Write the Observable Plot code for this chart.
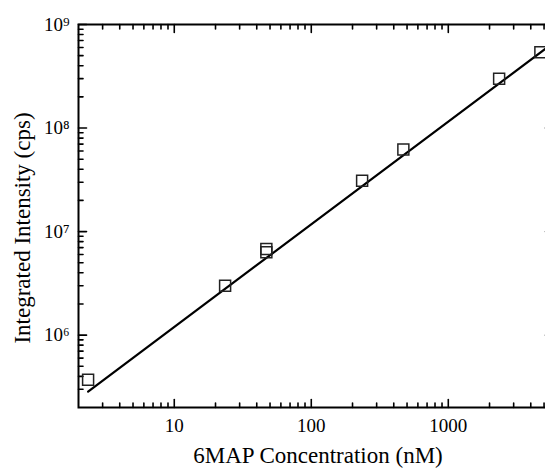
<!DOCTYPE html>
<html>
<head>
<meta charset="utf-8">
<script src="https://cdn.jsdelivr.net/npm/d3@7"></script>
<script src="https://cdn.jsdelivr.net/npm/@observablehq/plot@0.6"></script>
<style>
  html, body { margin: 0; padding: 0; background: white; overflow: hidden; }
  svg text { font-family: "Liberation Serif", "Times New Roman", serif; }
</style>
</head>
<body>
<div id="chart"></div>
<script>
// Measured points: 6MAP concentration (nM) vs integrated intensity (cps)
const concentration = [2.35, 23.5, 47, 47, 235, 470, 2350, 4700];
const intensity = [3.7e5, 3.0e6, 6.8e6, 6.3e6, 3.1e7, 6.2e7, 3.0e8, 5.4e8];

// Fitted line endpoints
const fitX = [2.35, 5100];
const fitY = [2.85e5, 5.8e8];

// Tick values and labels
const xMajor = [10, 100, 1000];
const xTickLabels = ["10", "100", "1000"];
const xMinor = [3, 4, 5, 6, 7, 8, 9, 20, 30, 40, 50, 60, 70, 80, 90,
  200, 300, 400, 500, 600, 700, 800, 900, 2000, 3000, 4000, 5000];
const yMajor = [1e6, 1e7, 1e8, 1e9];
const yTickLabels = ["10\u2076", "10\u2077", "10\u2078", "10\u2079"];
const yMinor = [3e5, 4e5, 5e5, 6e5, 7e5, 8e5, 9e5,
  2e6, 3e6, 4e6, 5e6, 6e6, 7e6, 8e6, 9e6,
  2e7, 3e7, 4e7, 5e7, 6e7, 7e7, 8e7, 9e7,
  2e8, 3e8, 4e8, 5e8, 6e8, 7e8, 8e8, 9e8];

const xTitle = "6MAP Concentration (nM)";
const yTitle = "Integrated Intensity (cps)";

const points = concentration.map((c, i) => ({c, v: intensity[i]}));
const fit = fitX.map((c, i) => ({c, v: fitY[i]}));

const serif = "'Liberation Serif', 'Times New Roman', serif";

// straight tick shape for vector marks (inward ticks)
const tickShape = {draw(ctx, l) { ctx.moveTo(0, 0); ctx.lineTo(0, -l); }};
const tk = {stroke: "black", strokeWidth: 1.6, anchor: "start", shape: tickShape};
const xt = (data, frameAnchor, rotate, length) =>
  Plot.vector(data, {x: d => d, frameAnchor, rotate, length, ...tk});
const yt = (data, frameAnchor, rotate, length) =>
  Plot.vector(data, {y: d => d, frameAnchor, rotate, length, ...tk});

const chart = Plot.plot({
  width: 555,
  height: 470,
  marginLeft: 78,
  marginRight: 2,
  marginTop: 24,
  marginBottom: 63,
  style: {fontFamily: serif, fontSize: "19px", background: "white", color: "black", maxWidth: "none"},
  x: {type: "log", domain: [2, 5860]},
  y: {type: "log", domain: [2e5, 1e9]},
  marks: [
    Plot.frame({stroke: "black", strokeWidth: 2}),
    // inward ticks
    xt(xMajor, "bottom", 0, 8),
    xt(xMinor, "bottom", 0, 4.5),
    xt(xMajor, "top", 180, 8),
    xt(xMinor, "top", 180, 4.5),
    yt(yMajor, "left", 90, 8),
    yt(yMinor, "left", 90, 4.5),
    yt(yMajor, "right", -90, 8),
    // tick labels
    Plot.axisX(xMajor, {anchor: "bottom", tickSize: 0, tickPadding: 11, fontSize: 19, fontFamily: serif, label: null,
      tickFormat: d => xTickLabels[xMajor.indexOf(d)]}),
    Plot.axisY(yMajor, {anchor: "left", tickSize: 0, tickPadding: 9, fontSize: 19, fontFamily: serif, label: null,
      tickFormat: d => yTickLabels[yMajor.indexOf(d)]}),
    // axis titles
    Plot.text([xTitle], {frameAnchor: "bottom", text: d => d, textAnchor: "middle", lineAnchor: "middle",
      dx: 2, dy: 48, fontSize: 23, fontFamily: serif}),
    Plot.text([yTitle], {frameAnchor: "left", text: d => d, rotate: -90, textAnchor: "middle",
      lineAnchor: "middle", dx: -56, dy: 12, fontSize: 23, fontFamily: serif}),
    // data
    Plot.line(fit, {x: "c", y: "v", stroke: "black", strokeWidth: 2.2}),
    Plot.dot(points, {x: "c", y: "v", symbol: "square", r: 6.2, stroke: "#222", strokeWidth: 1.5, fill: "none"})
  ]
});
document.getElementById("chart").appendChild(chart);
</script>
</body>
</html>
